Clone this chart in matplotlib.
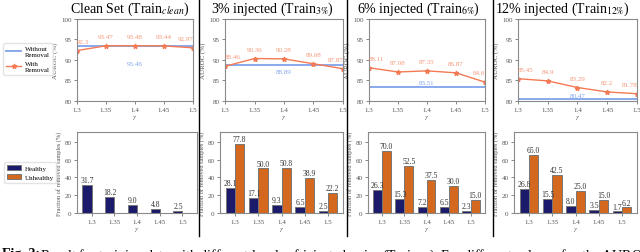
import matplotlib.pyplot as plt
from matplotlib.lines import Line2D

plt.rcParams['font.family'] = ['Liberation Serif', 'DejaVu Serif']
plt.rcParams['mathtext.fontset'] = 'stix'

gammas = [1.3, 1.35, 1.4, 1.45, 1.5]
gamma_labels = ['1.3', '1.35', '1.4', '1.45', '1.5']

titles = ['Clean Set (Train$_{clean}$)', '3% injected (Train$_{3\\%}$)',
          '6% injected (Train$_{6\\%}$)', '12% injected (Train$_{12\\%}$)']

# AUROC without removal (flat baseline) and with removal
auroc_without = [93.46, 88.89, 83.51, 80.47]
auroc_with = [
    [92.3, 93.47, 93.48, 93.44, 92.97],
    [88.46, 90.36, 90.28, 89.08, 87.87],
    [88.11, 87.08, 87.35, 86.87, 84.6],
    [85.45, 84.9, 83.29, 82.2, 81.78],
]

# fraction of removed samples (%)
healthy = [
    [31.7, 18.2, 9.0, 4.8, 2.5],
    [28.1, 17.1, 9.3, 6.5, 2.5],
    [26.3, 15.3, 7.2, 6.5, 2.3],
    [26.8, 15.5, 8.0, 3.5, 1.7],
]
unhealthy = [
    [0, 0, 0, 0, 0],
    [77.8, 50.0, 50.8, 38.9, 22.2],
    [70.0, 52.5, 37.5, 30.0, 15.0],
    [65.0, 42.5, 25.0, 15.0, 6.2],
]

blue = '#7fa3ec'
orange = '#f47a55'
navy = '#1b1a6b'
brown = '#d4681e'
spine_c = '#8a8a8a'
txt_c = '#555555'

W, H = 640, 253
fig = plt.figure(figsize=(6.4, 2.53), dpi=100)

top_x = [(77, 193), (225, 343), (369, 485), (518, 637)]
bot_x = [(77, 197), (220, 343), (368, 485), (514, 637)]
title_x = [130, 272, 418, 562]
blue_off = [-11, -3, 1, 1]


def style(ax):
    for s in ax.spines.values():
        s.set_color(spine_c)
        s.set_linewidth(0.8)
    ax.tick_params(labelsize=5, colors=txt_c, length=2, width=0.5, pad=2)


for i in range(4):
    x0, x1 = top_x[i]
    ax = fig.add_axes([x0 / W, 1 - 102 / H, (x1 - x0) / W, 82 / H])
    ax.plot(gammas, [auroc_without[i]] * 5, color=blue, lw=1.3)
    ax.plot(gammas, auroc_with[i], color=orange, lw=1.0, marker='*', ms=3.5)
    for j, (g, v) in enumerate(zip(gammas, auroc_with[i])):
        ha = 'left' if j == 0 else ('right' if j == 4 else 'center')
        ax.annotate(f'{v:g}', (g, v), xytext=(0, 5), textcoords='offset points',
                    ha=ha, va='bottom', fontsize=5, color=orange, alpha=0.8)
    va = 'top' if blue_off[i] < 0 else 'bottom'
    ax.annotate(f'{auroc_without[i]:.2f}', (1.4, auroc_without[i]),
                xytext=(0, blue_off[i]), textcoords='offset points',
                ha='center', va=va, fontsize=5, color=blue)
    ax.set_xlim(1.3, 1.5)
    ax.set_ylim(80, 100)
    ax.set_xticks(gammas)
    ax.set_xticklabels(gamma_labels)
    ax.set_yticks([80, 85, 90, 95, 100])
    ax.set_ylabel('AUROC (%)', fontsize=5, color=txt_c, labelpad=2)
    ax.set_xlabel('$\\gamma$', fontsize=5, color=txt_c, labelpad=1)
    style(ax)
    fig.text(title_x[i] / W, 1 - 13 / H, titles[i], fontsize=10,
             ha='center', va='baseline')

    x0, x1 = bot_x[i]
    bx = fig.add_axes([x0 / W, 1 - 214 / H, (x1 - x0) / W, 81 / H])
    pos = list(range(5))
    w = 0.4
    b1 = bx.bar([p - w / 2 for p in pos], healthy[i], w, color=navy,
                edgecolor='#777777', lw=0.7)
    b2 = bx.bar([p + w / 2 for p in pos], unhealthy[i], w, color=brown,
                edgecolor='#777777', lw=0.7)
    for bars, vals in ((b1, healthy[i]), (b2, unhealthy[i])):
        for b, v in zip(bars, vals):
            if v > 0:
                bx.text(b.get_x() + b.get_width() / 2, v + 1, f'{v:.1f}',
                        ha='center', va='bottom', fontsize=5.5, color='#333333')
    bx.set_ylim(0, 91)
    bx.set_yticks([0, 20, 40, 60, 80])
    bx.set_xticks(pos)
    bx.set_xticklabels(gamma_labels)
    bx.set_ylabel('Fraction of removed samples (%)', fontsize=4.5, color=txt_c,
                  labelpad=2)
    bx.set_xlabel('$\\gamma$', fontsize=5, color=txt_c, labelpad=1)
    style(bx)

# separators between the panels
for sx in (199, 347, 493):
    fig.add_artist(Line2D([sx / W, sx / W], [1.0, 1 - 237 / H],
                          color='black', lw=1.0))

top_handles = [Line2D([], [], color=blue, lw=1.3),
               Line2D([], [], color=orange, lw=1.0, marker='*', ms=3.5)]
fig.legend(top_handles, ['Without\nRemoval', 'With\nRemoval'],
           loc='upper left', bbox_to_anchor=(2 / W, 1 - 43 / H),
           fontsize=5, frameon=True, handlelength=2.2, handletextpad=0.5,
           borderpad=0.4, borderaxespad=0.2, labelspacing=0.6, fancybox=True,
           edgecolor='#dddddd')

bot_handles = [plt.Rectangle((0, 0), 1, 1, color=navy, ec='#777777', lw=0.7),
               plt.Rectangle((0, 0), 1, 1, color=brown, ec='#777777', lw=0.7)]
fig.legend(bot_handles, ['Healthy', 'Unhealthy'],
           loc='upper left', bbox_to_anchor=(3 / W, 1 - 162 / H),
           fontsize=5, frameon=True, handlelength=2.0, handletextpad=0.5,
           borderpad=0.4, borderaxespad=0.2, fancybox=True, edgecolor='#dddddd')

fig.text(2 / W, 1 - 248 / H, 'Fig. 2:', fontsize=10, fontweight='bold', va='top')
fig.text(40 / W, 1 - 248 / H,
         'Result for training data with different levels of injected noise (Train$_{x\\%}$). '
         'For different values of $\\gamma$, the AUROC',
         fontsize=10, va='top')

fig.savefig('out.png', dpi=100)
